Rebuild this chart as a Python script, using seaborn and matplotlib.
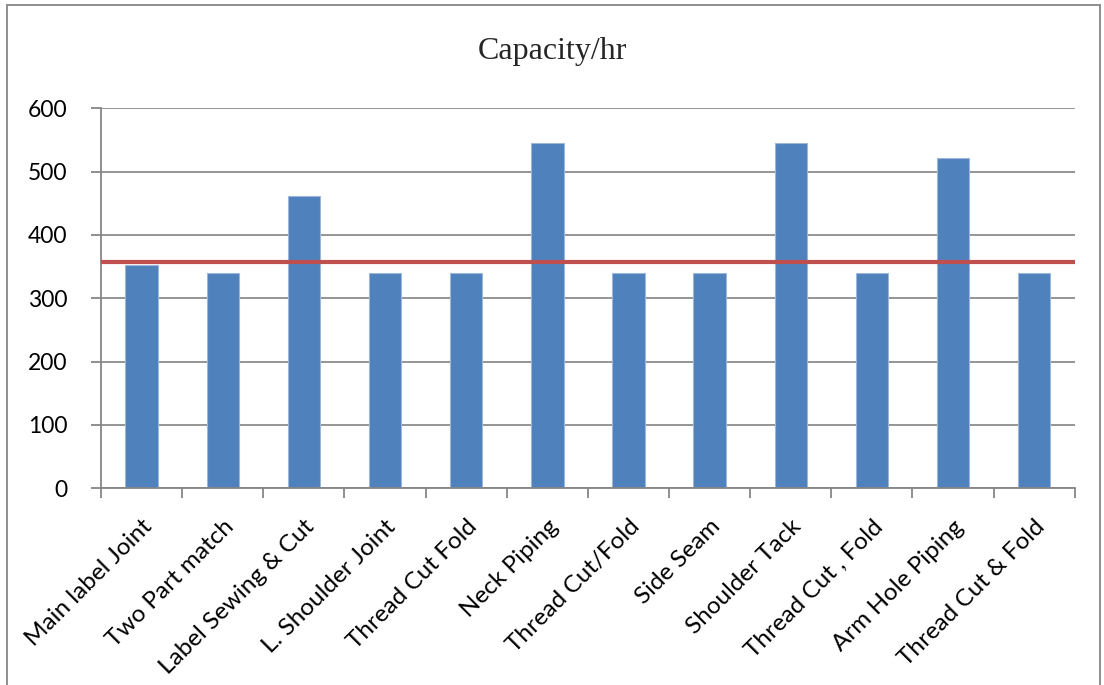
import matplotlib
matplotlib.use("Agg")
import matplotlib.pyplot as plt
import seaborn as sns
import pandas as pd
from matplotlib.patches import Rectangle

operations = ["Main label Joint", "Two Part match", "Label Sewing & Cut",
              "L. Shoulder Joint", "Thread Cut Fold", "Neck Piping",
              "Thread Cut/Fold", "Side Seam", "Shoulder Tack",
              "Thread Cut , Fold", "Arm Hole Piping", "Thread Cut & Fold"]
capacity = [353, 340, 461, 340, 340, 545, 340, 340, 545, 340, 521, 340]
target = 358
y_ticks = [0, 100, 200, 300, 400, 500, 600]

sns.set_theme(style="white")
plt.rcParams["font.family"] = ["Lato", "DejaVu Sans"]

df = pd.DataFrame({"Operation": operations, "Capacity": capacity})

fig = plt.figure(figsize=(11.04, 6.85), dpi=100)
ax = fig.add_axes([0.0915, 0.2872, 0.882, 0.5547])

sns.barplot(data=df, x="Operation", y="Capacity", color="#4F81BD",
            saturation=1, width=0.4, edgecolor="#9DB7DA", linewidth=0.8, ax=ax)
ax.axhline(target, color="#C0504D", linewidth=3, zorder=3)

ax.set_xlim(-0.5, len(operations) - 0.5)
ax.set_ylim(0, 600)
ax.set_yticks(y_ticks)
ax.yaxis.grid(True, color="#8C8C8C", linewidth=1.3)
ax.set_axisbelow(True)
ax.set_xlabel("")
ax.set_ylabel("")

for side in ["top", "right"]:
    ax.spines[side].set_visible(False)
for side in ["left", "bottom"]:
    ax.spines[side].set_color("#868686")
    ax.spines[side].set_linewidth(1.3)

ax.tick_params(axis="y", left=True, length=7, width=1.3, color="#868686",
               labelsize=16.5, pad=17, labelcolor="black")
ax.set_xticks([i - 0.5 for i in range(len(operations) + 1)], minor=True)
ax.tick_params(axis="x", which="minor", bottom=True, length=7, width=1.3,
               color="#868686")
ax.tick_params(axis="x", which="major", bottom=False, labelsize=17.5, pad=14,
               labelcolor="black")
ax.set_xticks(range(len(operations)))
ax.set_xticklabels(operations, rotation=45, ha="right", rotation_mode="anchor")

fig.text(0.5, 0.925, "Capacity/hr", ha="center", va="center", fontsize=23,
         family=["Liberation Serif", "DejaVu Serif"])

fig.patches.append(Rectangle((7 / 1104, -0.05), 1093 / 1104, 0.05 + 680 / 685,
                             transform=fig.transFigure, fill=False,
                             edgecolor="#868686", linewidth=1.3))

fig.savefig("out.png", dpi=100)
